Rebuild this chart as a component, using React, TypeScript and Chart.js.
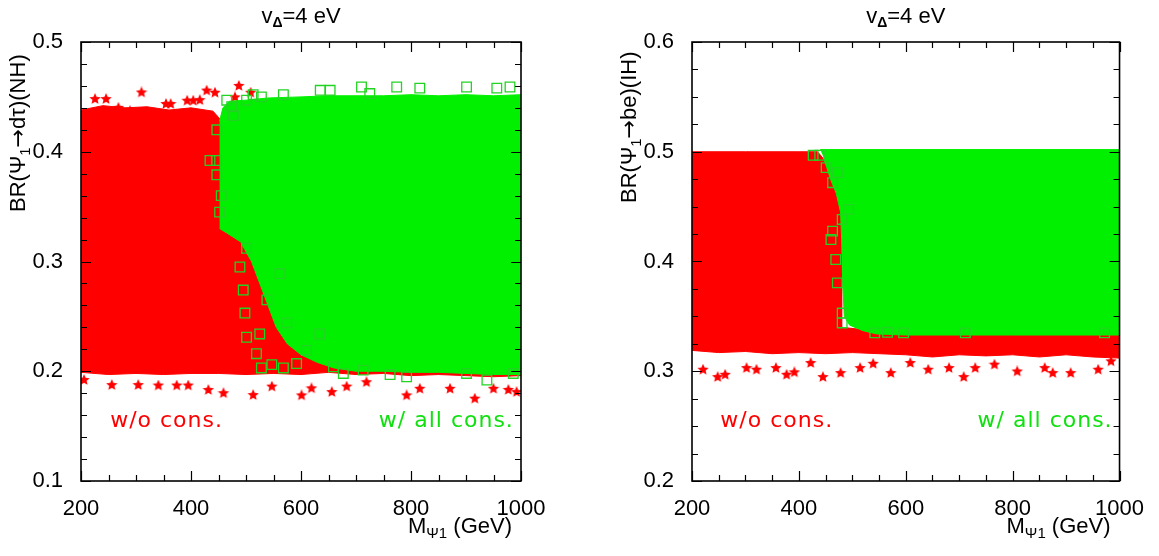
import React, { useEffect, useRef } from 'react';
import { Chart, registerables } from 'chart.js';
Chart.register(...registerables);

// ---------- Left panel (NH): BR(Psi1 -> d tau) ----------
const nhXTicksMajor = [200, 400, 600, 800, 1000];
const nhRedCloud: [number, number][] = [
  [200, 0.438], [240, 0.442], [280, 0.44], [320, 0.441], [360, 0.438], [400, 0.44], [440, 0.437],
  [470, 0.42], [1000, 0.42], [1000, 0.196], [950, 0.195], [900, 0.196], [850, 0.197], [800, 0.196],
  [750, 0.198], [700, 0.197], [650, 0.199], [600, 0.197], [550, 0.198], [500, 0.197], [450, 0.198],
  [400, 0.198], [350, 0.197], [300, 0.198], [250, 0.197], [200, 0.199],
];
const nhRedStars: [number, number][] = [
  [225.5, 0.448], [245.5, 0.448], [268, 0.44], [289, 0.437], [310, 0.454], [354.5, 0.4435], [363, 0.4435],
  [393, 0.4465], [404, 0.4465], [416, 0.447], [428.5, 0.4557], [443.6, 0.4538], [480, 0.4496],
  [487, 0.46], [508.5, 0.4538],
  [205.5, 0.192], [256, 0.1874], [304, 0.1874], [340.6, 0.187], [374, 0.187], [395, 0.187],
  [431.5, 0.1829], [459, 0.18], [513, 0.1783], [547, 0.186], [601, 0.178], [619, 0.1844],
  [656, 0.181], [683, 0.186], [719, 0.19], [792, 0.178], [816, 0.184], [871, 0.184], [916, 0.175],
  [950, 0.184], [977, 0.183], [992, 0.181],
];
const nhGreenCloud: [number, number][] = [
  [452, 0.428], [458, 0.44], [470, 0.446], [500, 0.447], [540, 0.449], [600, 0.45], [650, 0.451],
  [700, 0.451], [750, 0.451], [800, 0.452], [850, 0.451], [900, 0.452], [950, 0.451], [1000, 0.452],
  [1000, 0.197], [950, 0.197], [900, 0.198], [850, 0.199], [800, 0.199], [750, 0.2], [700, 0.2],
  [660, 0.203], [630, 0.208], [600, 0.215], [575, 0.225], [555, 0.24], [540, 0.26], [525, 0.28],
  [510, 0.3], [490, 0.318], [465, 0.326], [452, 0.33],
];
const nhGreenSquares: [number, number][] = [
  [434.5, 0.392], [446.7, 0.392], [447, 0.379], [447, 0.42], [455, 0.36], [452, 0.345], [474, 0.441],
  [477, 0.433], [465, 0.447], [501, 0.447], [513, 0.452], [528, 0.45], [568, 0.452], [635, 0.456],
  [653, 0.456], [710, 0.459], [725, 0.453], [774, 0.459], [816, 0.458], [901, 0.459], [956, 0.458],
  [980, 0.459],
  [501, 0.312], [489, 0.295], [495, 0.274], [498, 0.253], [501, 0.231], [519, 0.216], [528, 0.203],
  [547, 0.206], [568, 0.203], [592, 0.207], [525, 0.234], [538, 0.265], [562, 0.289], [574, 0.244],
  [610, 0.219], [634, 0.234], [659, 0.204], [677, 0.198], [713, 0.201], [762, 0.197], [792, 0.195],
  [901, 0.198], [938, 0.192], [986, 0.198],
];

// ---------- Right panel (IH): BR(Psi1 -> b e) ----------
const ihRedCloud: [number, number][] = [
  [200, 0.5], [300, 0.5], [400, 0.5], [435, 0.5], [445, 0.494], [452, 0.486], [462, 0.475],
  [472, 0.465], [480, 0.45], [480, 0.34], [600, 0.334], [1000, 0.334], [1000, 0.312], [950, 0.313],
  [900, 0.315], [850, 0.313], [800, 0.315], [750, 0.314], [700, 0.315], [650, 0.313], [600, 0.315],
  [550, 0.316], [500, 0.317], [450, 0.316], [400, 0.317], [350, 0.316], [300, 0.318], [250, 0.317],
  [200, 0.319],
];
const ihRedStars: [number, number][] = [
  [220.6, 0.3014], [248, 0.2947], [262, 0.2968], [302, 0.3029], [320.6, 0.3014], [357, 0.3029],
  [377, 0.2968], [391.5, 0.299], [422, 0.3075], [445, 0.2947], [478, 0.2983], [514.5, 0.3029],
  [539, 0.3068], [572, 0.2983], [608.5, 0.3075], [642, 0.3014], [681, 0.3029], [708.5, 0.2947],
  [730, 0.3029], [766, 0.306], [808.5, 0.2998], [860, 0.3029], [875, 0.2983], [908.5, 0.2983],
  [960, 0.3014], [984, 0.309],
];
const ihGreenCloud: [number, number][] = [
  [440, 0.502], [1000, 0.502], [1000, 0.333], [900, 0.333], [800, 0.333], [700, 0.333], [600, 0.333],
  [545, 0.334], [520, 0.337], [495, 0.342], [485, 0.35], [482, 0.38], [480, 0.42], [478, 0.445],
  [470, 0.462], [460, 0.474], [452, 0.486], [446, 0.495],
];
const ihGreenSquares: [number, number][] = [
  [426.7, 0.4968], [439, 0.4968], [451, 0.4855], [472, 0.481], [463, 0.4718], [493, 0.4475],
  [481, 0.4383], [463, 0.4277], [460, 0.42], [469, 0.4018], [472, 0.3805], [481, 0.353], [481, 0.344],
  [542, 0.335], [566, 0.3355], [596, 0.335], [711.5, 0.335], [972, 0.335],
];

const RED = '#ff0000';
const GREEN = '#00f000';
const SQUARE = '#22d422';
const TICK_FONT = '"Liberation Sans", Arial, sans-serif';
const NOTE_FONT = '"DejaVu Sans", sans-serif';
const ARROW_FONT = '"DejaVu Sans", sans-serif';

type Part = { t: string; sub?: boolean; bold?: boolean; family?: string };

interface PanelCfg {
  yMin: number; yMax: number; yStep: number;
  yTitle: Part[];
  redCloud: [number, number][]; redStars: [number, number][];
  greenCloud: [number, number][]; greenSquares: [number, number][];
  noteY: number;
  yAxisWidth: number; padRight: number;
  yTitleX: number; yTitleStart: number;
}

const titleParts: Part[] = [{ t: 'v' }, { t: 'Δ', sub: true, bold: true }, { t: '=4 eV' }];
const xTitleParts: Part[] = [{ t: 'M' }, { t: 'Ψ1', sub: true }, { t: ' (GeV)' }];

const leftCfg: PanelCfg = {
  yMin: 0.1, yMax: 0.5, yStep: 0.02,
  yTitle: [{ t: 'BR(Ψ' }, { t: '1', sub: true }, { t: '→', family: ARROW_FONT }, { t: 'dτ)(NH)' }],
  redCloud: nhRedCloud, redStars: nhRedStars, greenCloud: nhGreenCloud, greenSquares: nhGreenSquares,
  noteY: 0.149, yAxisWidth: 81, padRight: 79, yTitleX: 19, yTitleStart: 212,
};
const rightCfg: PanelCfg = {
  yMin: 0.2, yMax: 0.6, yStep: 0.025,
  yTitle: [{ t: 'BR(Ψ' }, { t: '1', sub: true }, { t: '→', family: ARROW_FONT }, { t: 'be)(IH)' }],
  redCloud: ihRedCloud, redStars: ihRedStars, greenCloud: ihGreenCloud, greenSquares: ihGreenSquares,
  noteY: 0.2496, yAxisWidth: 92, padRight: 27, yTitleX: 30, yTitleStart: 203,
};

const isMult = (v: number, m: number) => Math.abs(v / m - Math.round(v / m)) < 1e-6;
const pts = (a: [number, number][]) => a.map(([x, y]) => ({ x, y }));

function makeStar(color: string, size: number) {
  const c = document.createElement('canvas');
  c.width = size; c.height = size;
  const g = c.getContext('2d')!;
  const cx = size / 2, cy = size / 2, R = size / 2, r = R * 0.45;
  g.beginPath();
  for (let i = 0; i < 10; i++) {
    const a = -Math.PI / 2 + (i * Math.PI) / 5;
    const rad = i % 2 === 0 ? R : r;
    g.lineTo(cx + rad * Math.cos(a), cy + rad * Math.sin(a));
  }
  g.closePath();
  g.fillStyle = color;
  g.fill();
  return c;
}

function drawParts(ctx: CanvasRenderingContext2D, parts: Part[], size: number, subSize: number, subShift: number, measureOnly = false) {
  let w = 0;
  for (const p of parts) {
    ctx.font = `${p.bold ? 'bold ' : ''}${p.sub ? subSize : size}px ${p.family || TICK_FONT}`;
    if (!measureOnly) ctx.fillText(p.t, w, p.sub ? subShift : 0);
    w += ctx.measureText(p.t).width;
  }
  return w;
}

function decor(cfg: PanelCfg) {
  return {
    id: 'decor',
    afterDraw(chart: any) {
      const { ctx, chartArea: a, scales } = chart;
      const xs = scales.x, ys = scales.y;
      ctx.save();
      ctx.strokeStyle = '#000';
      ctx.lineWidth = 1.2;
      ctx.beginPath();
      xs.ticks.forEach((t: any) => {
        const px = Math.round(xs.getPixelForValue(t.value)) + 0.5;
        const len = isMult(t.value, 200) ? 10 : 6;
        ctx.moveTo(px, a.bottom); ctx.lineTo(px, a.bottom - len);
        ctx.moveTo(px, a.top); ctx.lineTo(px, a.top + len);
      });
      ys.ticks.forEach((t: any) => {
        const py = Math.round(ys.getPixelForValue(t.value)) + 0.5;
        const len = isMult(t.value, 0.1) ? 10 : 6;
        ctx.moveTo(a.left, py); ctx.lineTo(a.left + len, py);
        ctx.moveTo(a.right, py); ctx.lineTo(a.right - len, py);
      });
      ctx.stroke();
      ctx.lineWidth = 1.6;
      ctx.strokeRect(a.left, a.top, a.right - a.left, a.bottom - a.top);

      // notes
      ctx.textBaseline = 'alphabetic';
      ctx.font = `22px ${NOTE_FONT}`;
      (ctx as any).letterSpacing = '1px';
      ctx.fillStyle = RED;
      ctx.textAlign = 'left';
      ctx.fillText('w/o cons.', xs.getPixelForValue(253), ys.getPixelForValue(cfg.noteY));
      ctx.fillStyle = '#10e010';
      ctx.textAlign = 'right';
      ctx.fillText('w/ all cons.', xs.getPixelForValue(987), ys.getPixelForValue(cfg.noteY));
      (ctx as any).letterSpacing = '0px';

      // title
      ctx.fillStyle = '#000';
      ctx.textAlign = 'left';
      const tw = drawParts(ctx, titleParts, 22, 14, 4, true);
      ctx.save();
      ctx.translate((a.left + a.right) / 2 - tw / 2, 23);
      drawParts(ctx, titleParts, 22, 14, 4);
      ctx.restore();

      // x title
      const xw = drawParts(ctx, xTitleParts, 22, 15, 5, true);
      ctx.save();
      ctx.translate(a.right - 9 - xw, 533);
      drawParts(ctx, xTitleParts, 22, 15, 5);
      ctx.restore();

      // y title
      ctx.save();
      ctx.translate(cfg.yTitleX, cfg.yTitleStart);
      ctx.rotate(-Math.PI / 2);
      ctx.textBaseline = 'middle';
      drawParts(ctx, cfg.yTitle, 22, 15, 7);
      ctx.restore();

      ctx.restore();
    },
  };
}

function buildConfig(cfg: PanelCfg): any {
  const star = makeStar(RED, 12);
  const poly = (data: [number, number][], color: string, order: number) => ({
    data: pts(data), showLine: true, fill: 'shape', backgroundColor: color, borderColor: color,
    borderWidth: 1, pointRadius: 0, tension: 0, order,
  });
  return {
    type: 'scatter',
    data: {
      datasets: [
        poly(cfg.redCloud, RED, 4),
        { data: pts(cfg.redStars), pointStyle: star, pointRadius: 5, order: 3 },
        poly(cfg.greenCloud, GREEN, 2),
        {
          data: pts(cfg.greenSquares), pointStyle: 'rect', pointRadius: 6.8,
          pointBackgroundColor: 'rgba(0,0,0,0)', pointBorderColor: SQUARE, pointBorderWidth: 1.3, order: 1,
        },
      ],
    },
    options: {
      animation: false,
      responsive: false,
      events: [],
      layout: { padding: { left: 0, right: cfg.padRight, top: 42, bottom: 35 } },
      plugins: { legend: { display: false }, tooltip: { enabled: false } },
      scales: {
        x: {
          type: 'linear', min: 200, max: 1000,
          afterFit: (s: any) => { s.height = 40; },
          grid: { display: false, drawTicks: false },
          border: { display: false },
          ticks: {
            stepSize: 50, autoSkip: false, maxRotation: 0, minRotation: 0, padding: 15, color: '#000',
            font: { family: TICK_FONT, size: 22 },
            callback: (v: number) => (nhXTicksMajor.some((m) => Math.abs(m - v) < 1e-6) ? String(v) : ''),
          },
        },
        y: {
          type: 'linear', min: cfg.yMin, max: cfg.yMax,
          afterFit: (s: any) => { s.width = cfg.yAxisWidth; },
          grid: { display: false, drawTicks: false },
          border: { display: false },
          ticks: {
            stepSize: cfg.yStep, autoSkip: false, padding: 18, color: '#000',
            font: { family: TICK_FONT, size: 22 },
            callback: (v: number) => (isMult(v, 0.1) ? v.toFixed(1) : ''),
          },
        },
      },
    },
    plugins: [decor(cfg)],
  };
}

function Panel({ cfg, left, width }: { cfg: PanelCfg; left: number; width: number }) {
  const ref = useRef<HTMLCanvasElement>(null);
  useEffect(() => {
    const chart = new Chart(ref.current!, buildConfig(cfg));
    return () => chart.destroy();
  }, [cfg]);
  return (
    <div style={{ position: 'absolute', left, top: 0, width, height: 556 }}>
      <canvas ref={ref} width={width} height={556} style={{ display: 'block', width, height: 556 }} />
    </div>
  );
}

export default function App() {
  return (
    <div style={{ position: 'absolute', left: 0, top: 0, width: 1159, height: 556, background: '#fff', overflow: 'hidden' }}>
      <Panel cfg={leftCfg} left={0} width={600} />
      <Panel cfg={rightCfg} left={600} width={559} />
    </div>
  );
}
